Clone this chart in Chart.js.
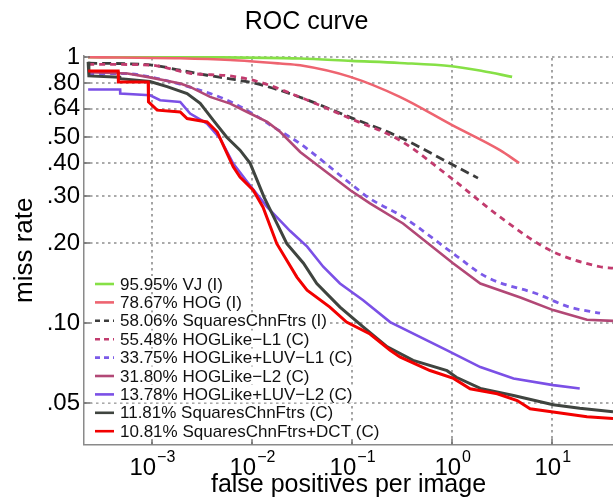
<!DOCTYPE html>
<html>
<head>
<meta charset="utf-8">
<title>ROC curve</title>
<script src="https://cdn.jsdelivr.net/npm/chart.js@4.4.1/dist/chart.umd.min.js"></script>
<style>
  html, body { margin: 0; padding: 0; background: #ffffff; }
  #roc { display: block; }
</style>
</head>
<body>
<canvas id="roc" width="613" height="504"></canvas>
<script>
// Values: false positives per image (x) vs miss rate (y)
const seriesLabels = [
  '95.95% VJ (I)',
  '78.67% HOG (I)',
  '58.06% SquaresChnFtrs (I)',
  '55.48% HOGLike\u2212L1 (C)',
  '33.75% HOGLike+LUV\u2212L1 (C)',
  '31.80% HOGLike\u2212L2 (C)',
  '13.78% HOGLike+LUV\u2212L2 (C)',
  '11.81% SquaresChnFtrs (C)',
  '10.81% SquaresChnFtrs+DCT (C)'
];

const vjFppi = [2.3e-4, 0.005, 0.0303, 0.099, 0.30, 0.99, 2.0, 3.97];
const vjMiss = [1.0, 0.998, 0.988, 0.968, 0.951, 0.924, 0.887, 0.843];

const hogFppi = [2.3e-4, 1.92e-3, 6.05e-3, 0.0191, 0.0303, 0.096, 0.30, 1.0, 3.0, 4.66];
const hogMiss = [1.0, 0.99, 0.975, 0.946, 0.932, 0.843, 0.709, 0.555, 0.447, 0.400];

const chnIFppi = [2.31e-4, 9.6e-4, 1.92e-3, 3.57e-3, 6.06e-3, 0.0103, 0.0163, 0.0303, 0.096, 0.30, 0.95, 1.81];
const chnIMiss = [0.949, 0.936, 0.893, 0.855, 0.829, 0.800, 0.764, 0.707, 0.594, 0.500, 0.399, 0.351];

const hogL1Fppi = [2.31e-4, 9.6e-4, 2.41e-3, 6.5e-3, 0.0122, 0.0303, 0.096, 0.30, 0.95, 3.0, 9.5, 30, 40.4];
const hogL1Miss = [0.940, 0.934, 0.870, 0.847, 0.804, 0.707, 0.588, 0.487, 0.354, 0.251, 0.188, 0.163, 0.161];

const luvL1Fppi = [2.31e-4, 5.17e-4, 9.6e-4, 3.25e-3, 5.15e-3, 8.95e-3, 0.0163, 0.0303, 0.096, 0.151, 0.323, 1.02, 2.21, 7.0, 14.8, 30];
const luvL1Miss = [0.868, 0.868, 0.843, 0.745, 0.700, 0.631, 0.547, 0.473, 0.335, 0.294, 0.251, 0.183, 0.149, 0.129, 0.115, 0.109];

const hogL2Fppi = [2.31e-4, 5.7e-4, 8.99e-4, 1.92e-3, 2.41e-3, 3.82e-3, 6.06e-3, 8.95e-3, 0.0142, 0.0191, 0.0303, 0.096, 0.151, 0.323, 1.02, 1.91, 4.8, 10.2, 22.2, 40.4];
const hogL2Miss = [0.877, 0.868, 0.843, 0.796, 0.773, 0.709, 0.669, 0.622, 0.571, 0.524, 0.440, 0.316, 0.282, 0.237, 0.168, 0.141, 0.125, 0.112, 0.103, 0.102];

const luvL2Fppi = [2.31e-4, 4.82e-4, 4.83e-4, 9.6e-4, 1.21e-3, 1.92e-3, 2.41e-3, 3.56e-3, 4.8e-3, 6.5e-3, 8.95e-3, 0.0142, 0.0241, 0.0356, 0.0515, 0.0757, 0.129, 0.24, 0.88, 1.91, 4.1, 10.2, 18.8];
const luvL2Miss = [0.756, 0.756, 0.730, 0.719, 0.689, 0.679, 0.614, 0.563, 0.495, 0.398, 0.340, 0.273, 0.222, 0.194, 0.163, 0.141, 0.122, 0.101, 0.0792, 0.0684, 0.0620, 0.0585, 0.0568];

const chnCFppi = [2.31e-4, 2.35e-4, 4.8e-4, 4.85e-4, 9.6e-4, 1.42e-3, 2.25e-3, 3.04e-3, 4.1e-3, 5.6e-3, 7.6e-3, 9.6e-3, 0.0132, 0.0223, 0.0327, 0.0444, 0.0757, 0.129, 0.225, 0.407, 0.888, 1.1, 1.91, 4.1, 10.2, 18.8, 40.4];
const chnCMiss = [0.960, 0.850, 0.840, 0.830, 0.810, 0.775, 0.730, 0.670, 0.580, 0.500, 0.447, 0.399, 0.298, 0.199, 0.168, 0.141, 0.115, 0.0968, 0.0815, 0.0725, 0.0663, 0.0626, 0.0569, 0.0535, 0.0494, 0.0479, 0.0465];

const dctFppi = [2.31e-4, 4.61e-4, 4.63e-4, 9.19e-4, 9.25e-4, 1.13e-3, 1.92e-3, 2.25e-3, 3.56e-3, 4.5e-3, 5.65e-3, 6.5e-3, 7.6e-3, 0.0103, 0.0129, 0.0177, 0.0281, 0.0355, 0.06, 0.088, 0.151, 0.24, 0.30, 0.60, 1.03, 1.51, 2.82, 4.46, 6.0, 10.2, 22.2, 40.4];
const dctMiss = [0.887, 0.887, 0.807, 0.807, 0.679, 0.632, 0.622, 0.588, 0.571, 0.523, 0.434, 0.387, 0.354, 0.316, 0.273, 0.199, 0.149, 0.133, 0.115, 0.101, 0.0911, 0.0791, 0.0747, 0.0664, 0.0620, 0.0567, 0.0543, 0.0512, 0.0477, 0.0464, 0.0445, 0.0438];

const xTicks = [1e-3, 1e-2, 1e-1, 1, 10];
const yTicks = [0.05, 0.10, 0.20, 0.30, 0.40, 0.50, 0.64, 0.80, 1];
const yTickLabels = ['.05', '.10', '.20', '.30', '.40', '.50', '.64', '.80', '1'];

// Styles
const FONT = "'Liberation Sans', Arial, Helvetica, sans-serif";
const GRID = '#8e8e8e';
const seriesStyles = [
  { color: '#86e046', dash: [], width: 2.6, smooth: true },
  { color: '#ee6470', dash: [], width: 2.6, smooth: true },
  { color: '#3c3c3c', dash: [9, 5], width: 2.8, smooth: true },
  { color: '#c23b6e', dash: [6, 5], width: 2.8, smooth: true },
  { color: '#7b5ae8', dash: [6, 5], width: 2.8, smooth: true },
  { color: '#b24876', dash: [], width: 2.6, smooth: false },
  { color: '#7b50e6', dash: [], width: 2.6, smooth: false },
  { color: '#3f443f', dash: [], width: 3, smooth: false },
  { color: '#f20000', dash: [], width: 3, smooth: false }
];

const fppiSets = [vjFppi, hogFppi, chnIFppi, hogL1Fppi, luvL1Fppi, hogL2Fppi, luvL2Fppi, chnCFppi, dctFppi];
const missSets = [vjMiss, hogMiss, chnIMiss, hogL1Miss, luvL1Miss, hogL2Miss, luvL2Miss, chnCMiss, dctMiss];

function toPoints(xs, ys) {
  return xs.map((x, i) => ({ x: x, y: ys[i] }));
}

const datasets = seriesLabels.map((label, i) => ({
  label: label,
  data: toPoints(fppiSets[i], missSets[i]),
  borderColor: seriesStyles[i].color,
  borderWidth: seriesStyles[i].width,
  borderDash: seriesStyles[i].dash,
  cubicInterpolationMode: seriesStyles[i].smooth ? 'monotone' : 'default',
  pointRadius: 0,
  fill: false,
  order: seriesLabels.length - i
}));

// Dotted grid at the tick values, drawn under the curves
const tickGrid = {
  id: 'tickGrid',
  beforeDatasetsDraw(chart) {
    const ctx = chart.ctx;
    const area = chart.chartArea;
    const xs = chart.scales.x;
    const ys = chart.scales.y;
    ctx.save();
    ctx.strokeStyle = GRID;
    ctx.lineWidth = 1.6;
    ctx.setLineDash([2.5, 3.5]);
    ctx.beginPath();
    xTicks.forEach((v) => {
      const px = Math.round(xs.getPixelForValue(v));
      ctx.moveTo(px, area.bottom);
      ctx.lineTo(px, area.top);
    });
    yTicks.forEach((v) => {
      const py = Math.round(ys.getPixelForValue(v));
      ctx.moveTo(area.left, py);
      ctx.lineTo(area.right, py);
    });
    ctx.stroke();
    ctx.restore();
  }
};

// Draws the superscript x labels, inward tick marks and the in-plot legend
const decorPlugin = {
  id: 'decor',
  afterDraw(chart) {
    const ctx = chart.ctx;
    const area = chart.chartArea;
    const xs = chart.scales.x;
    const ys = chart.scales.y;
    ctx.save();

    // inward tick marks
    ctx.strokeStyle = '#707070';
    ctx.lineWidth = 1.5;
    ctx.beginPath();
    xTicks.forEach((v) => {
      const px = Math.round(xs.getPixelForValue(v));
      ctx.moveTo(px, area.bottom);
      ctx.lineTo(px, area.bottom - 6);
    });
    yTicks.forEach((v) => {
      const py = Math.round(ys.getPixelForValue(v));
      ctx.moveTo(area.left, py);
      ctx.lineTo(area.left + 6, py);
    });
    ctx.stroke();

    // x tick labels: 10 with superscript exponent
    ctx.fillStyle = '#000';
    ctx.textBaseline = 'alphabetic';
    ctx.textAlign = 'left';
    xTicks.forEach((v) => {
      const exp = String(Math.round(Math.log10(v))).replace('-', '\u2212');
      ctx.font = '24px ' + FONT;
      const baseW = ctx.measureText('10').width;
      ctx.font = '16px ' + FONT;
      const expW = ctx.measureText(exp).width;
      const px = xs.getPixelForValue(v);
      const start = px - (baseW + expW) / 2;
      ctx.font = '24px ' + FONT;
      ctx.fillText('10', start, area.bottom + 30);
      ctx.font = '16px ' + FONT;
      ctx.fillText(exp, start + baseW + 1, area.bottom + 17);
    });

    // legend inside the plot, lower left
    const rowH = 18.4;
    const firstRow = area.bottom - 160.5;
    ctx.font = '17px ' + FONT;
    ctx.textBaseline = 'middle';
    chart.data.datasets.forEach((ds, i) => {
      const y = firstRow + i * rowH;
      const textX = area.left + 36;
      const w = ctx.measureText(ds.label).width;
      ctx.fillStyle = '#ffffff';
      ctx.fillRect(area.left + 8, y - 8, textX - area.left - 8 + w + 3, 16);
      ctx.strokeStyle = ds.borderColor;
      ctx.lineWidth = 2.6;
      ctx.setLineDash(ds.borderDash.length ? [5, 4] : []);
      ctx.beginPath();
      ctx.moveTo(area.left + 11, y);
      ctx.lineTo(area.left + 30, y);
      ctx.stroke();
      ctx.setLineDash([]);
      ctx.fillStyle = '#111';
      ctx.fillText(ds.label, textX, y + 1);
    });
    ctx.restore();
  }
};

Chart.defaults.font.family = FONT;
Chart.defaults.color = '#000';

const chart = new Chart(document.getElementById('roc').getContext('2d'), {
  type: 'line',
  data: { datasets: datasets },
  options: {
    responsive: false,
    animation: false,
    layout: { padding: 0 },
    plugins: {
      legend: { display: false },
      tooltip: { enabled: false },
      title: {
        display: true,
        text: 'ROC curve',
        color: '#000',
        font: { size: 25, weight: 'normal', family: FONT },
        padding: { top: 7, bottom: 19 }
      }
    },
    scales: {
      x: {
        type: 'logarithmic',
        min: 2.1e-4,
        max: 40.4,
        afterBuildTicks: (scale) => { scale.ticks = xTicks.map((v) => ({ value: v })); },
        afterFit: (scale) => { scale.height = 59.5; },
        ticks: { display: false },
        grid: { display: false, drawTicks: false },
        border: { display: true, color: '#8a8a8a', width: 1.5 },
        title: {
          display: true,
          text: 'false positives per image',
          color: '#000',
          font: { size: 25, family: FONT },
          padding: { top: 0, bottom: 4 }
        }
      },
      y: {
        type: 'logarithmic',
        min: 0.035,
        max: 1.01,
        afterBuildTicks: (scale) => { scale.ticks = yTicks.map((v) => ({ value: v })); },
        afterFit: (scale) => { scale.width = 84; },
        ticks: {
          autoSkip: false,
          padding: 4,
          color: '#000',
          font: { size: 24, family: FONT },
          callback: (value, index) => yTickLabels[index]
        },
        grid: { display: false, drawTicks: false },
        border: { display: true, color: '#8a8a8a', width: 1.5 },
        title: {
          display: true,
          text: 'miss rate',
          color: '#000',
          font: { size: 26, family: FONT },
          padding: { top: 9, bottom: 0 }
        }
      }
    }
  },
  plugins: [tickGrid, decorPlugin]
});
</script>
</body>
</html>
